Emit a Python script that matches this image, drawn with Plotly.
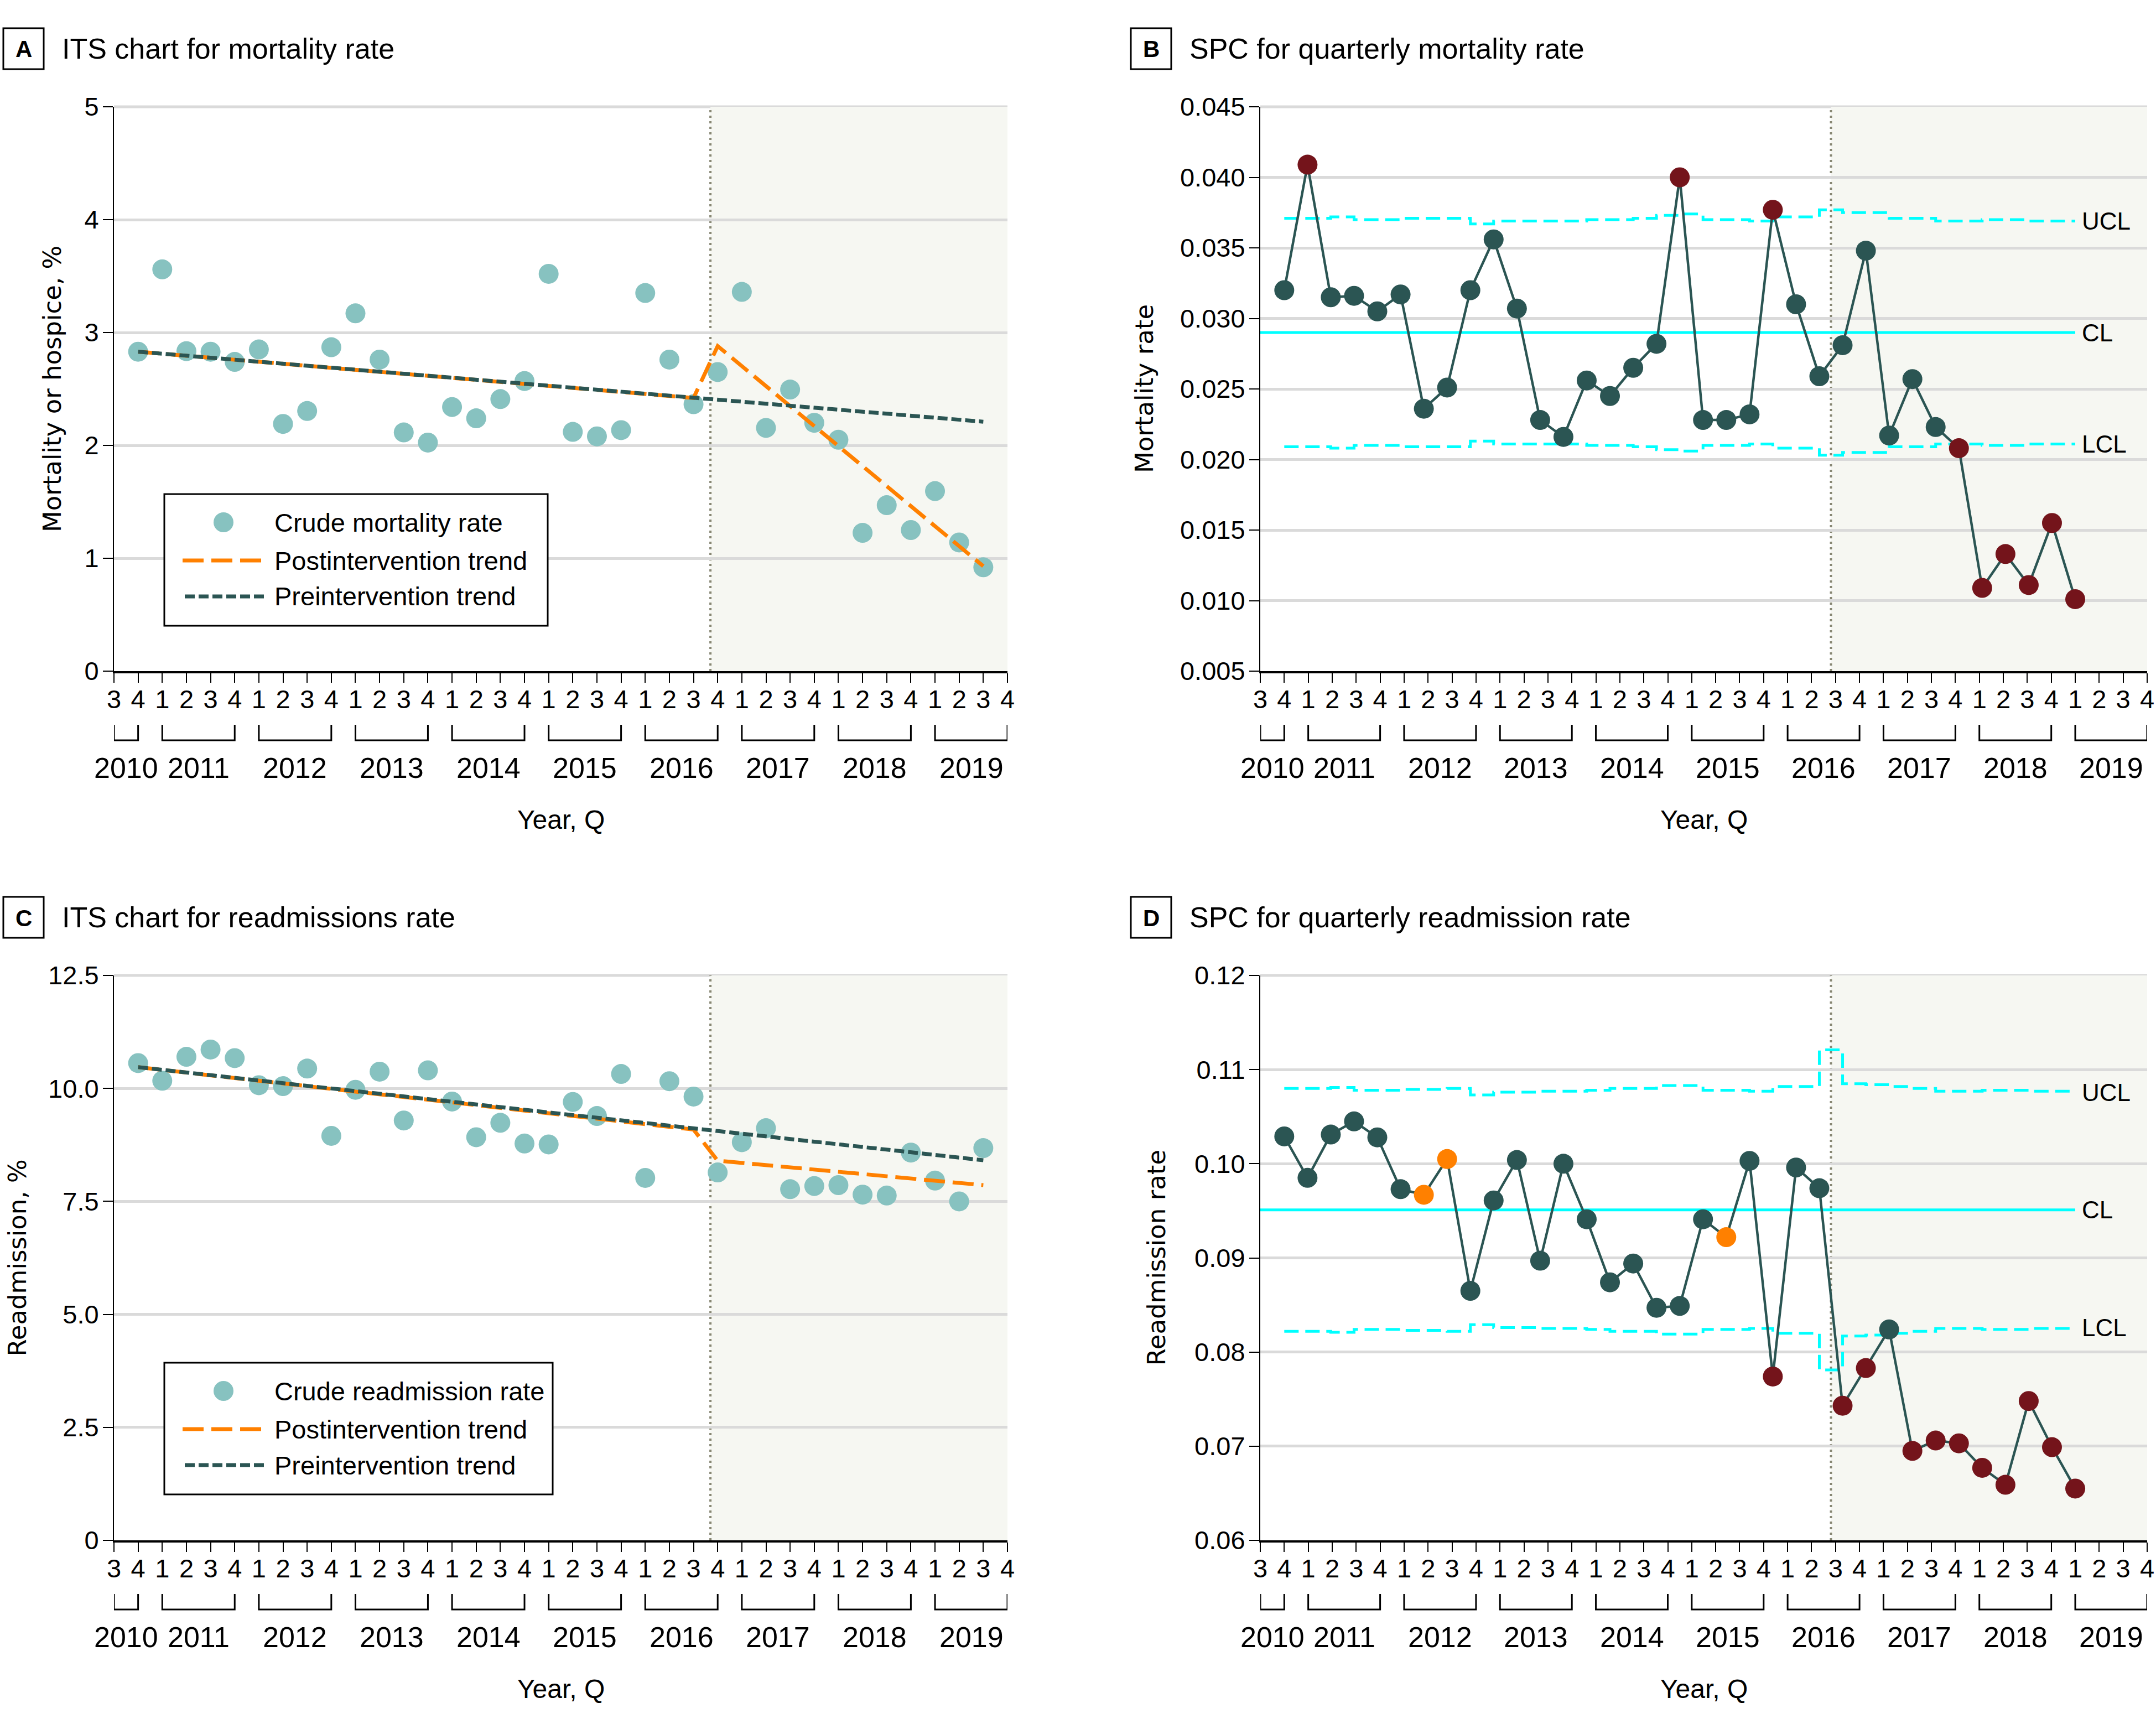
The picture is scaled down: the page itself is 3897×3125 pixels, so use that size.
import plotly.graph_objects as go

W, H = 3897, 3125
FONT = "Liberation Sans, Arial, Helvetica, sans-serif"
YTITLE_FONT = "DejaVu Sans, Verdana, sans-serif"

# ------------------------------------------------------------------ data
# x axis positions: 2010 Q3 ... 2019 Q4
axis_quarters = ["2010Q3", "2010Q4"] + [f"{y}Q{q}" for y in range(2011, 2020) for q in (1, 2, 3, 4)]
quarter_ticks = ["3", "4"] + ["1", "2", "3", "4"] * 9
year_labels = ["2010", "2011", "2012", "2013", "2014", "2015", "2016", "2017", "2018", "2019"]

# ITS panels (A, C): quarterly crude rates 2010 Q4 - 2019 Q3
its_quarters = axis_quarters[1:37]
mortality_crude = [2.83, 3.56, 2.835, 2.83, 2.74, 2.85, 2.19, 2.305, 2.87, 3.17, 2.76, 2.115,
                   2.025, 2.34, 2.24, 2.41, 2.57, 3.52, 2.12, 2.08, 2.135, 3.35, 2.76, 2.365,
                   2.65, 3.36, 2.155, 2.495, 2.20, 2.05, 1.225, 1.47, 1.25, 1.595, 1.14, 0.92]
readmission_crude = [10.56, 10.17, 10.70, 10.86, 10.67, 10.07, 10.05, 10.44, 8.95, 9.97, 10.37, 9.29,
                     10.40, 9.71, 8.92, 9.24, 8.78, 8.76, 9.70, 9.39, 10.32, 8.02, 10.16, 9.82,
                     8.14, 8.81, 9.12, 7.77, 7.84, 7.86, 7.65, 7.63, 8.58, 7.96, 7.50, 8.68]
pre_trend_quarters = ["2010Q4", "2019Q3"]
post_trend_quarters = ["2010Q4", "2016Q3", "2016Q4", "2019Q3"]
mortality_pre_trend = [2.83, 2.21]
mortality_post_trend = [2.83, 2.42, 2.88, 0.93]
readmission_pre_trend = [10.47, 8.41]
readmission_post_trend = [10.47, 9.09, 8.40, 7.86]
its_intervention = 24.7  # position on the quarter axis

# SPC panels (B, D): 35 periods
spc_period = list(range(1, 36))
spc_intervention = 24.5
mort_rate = [0.0320, 0.0409, 0.0315, 0.0316, 0.0305, 0.0317, 0.0236, 0.0251, 0.0320, 0.0356,
             0.0307, 0.0228, 0.0216, 0.0256, 0.0245, 0.0265, 0.0282, 0.0400, 0.0228, 0.0228,
             0.0232, 0.0377, 0.0310, 0.0259, 0.0281, 0.0348, 0.0217, 0.0257, 0.0223, 0.0208,
             0.0109, 0.0133, 0.0111, 0.0155, 0.0101]
mort_cl = 0.0290
mort_ucl = [0.0371, 0.0371, 0.0372, 0.0370, 0.0370, 0.0371, 0.0371, 0.0371, 0.0367, 0.0369,
            0.0369, 0.0369, 0.0369, 0.0370, 0.0370, 0.0371, 0.0373, 0.0374, 0.0370, 0.0370,
            0.0369, 0.0372, 0.0372, 0.0377, 0.0375, 0.0375, 0.0371, 0.0371, 0.0369, 0.0369,
            0.0370, 0.0370, 0.0369, 0.0369, 0.0369]
mort_lcl = [0.0209, 0.0209, 0.0208, 0.0210, 0.0210, 0.0209, 0.0209, 0.0209, 0.0213, 0.0211,
            0.0211, 0.0211, 0.0211, 0.0210, 0.0210, 0.0209, 0.0207, 0.0206, 0.0210, 0.0210,
            0.0211, 0.0208, 0.0208, 0.0203, 0.0205, 0.0205, 0.0209, 0.0209, 0.0211, 0.0211,
            0.0210, 0.0210, 0.0211, 0.0211, 0.0211]
mort_flag = ["n", "s", "n", "n", "n", "n", "n", "n", "n", "n", "n", "n", "n", "n", "n", "n", "n", "s",
             "n", "n", "n", "s", "n", "n", "n", "n", "n", "n", "n", "s", "s", "s", "s", "s", "s"]

readm_rate = [0.1029, 0.0985, 0.1031, 0.1045, 0.1028, 0.0973, 0.0967, 0.1005, 0.0865, 0.0961,
              0.1004, 0.0897, 0.1000, 0.0941, 0.0874, 0.0894, 0.0847, 0.0849, 0.0941, 0.0922,
              0.1003, 0.0774, 0.0996, 0.0974, 0.0743, 0.0783, 0.0824, 0.0695, 0.0706, 0.0703,
              0.0677, 0.0659, 0.0748, 0.0699, 0.0655]
readm_cl = 0.0951
readm_ucl = [0.1080, 0.1080, 0.1081, 0.1078, 0.1078, 0.1079, 0.1079, 0.1080, 0.1073, 0.1076,
             0.1076, 0.1077, 0.1077, 0.1078, 0.1080, 0.1080, 0.1083, 0.1083, 0.1078, 0.1078,
             0.1077, 0.1082, 0.1082, 0.1121, 0.1085, 0.1084, 0.1082, 0.1080, 0.1077, 0.1077,
             0.1078, 0.1078, 0.1077, 0.1077, 0.1076]
readm_lcl = [0.0822, 0.0822, 0.0821, 0.0824, 0.0824, 0.0823, 0.0823, 0.0822, 0.0829, 0.0826,
             0.0826, 0.0825, 0.0825, 0.0824, 0.0822, 0.0822, 0.0819, 0.0819, 0.0824, 0.0824,
             0.0825, 0.0820, 0.0820, 0.0781, 0.0817, 0.0818, 0.0820, 0.0822, 0.0825, 0.0825,
             0.0824, 0.0824, 0.0825, 0.0825, 0.0826]
readm_flag = ["n", "n", "n", "n", "n", "n", "w", "w", "n", "n", "n", "n", "n", "n", "n", "n", "n", "n",
              "n", "w", "n", "s", "n", "n", "s", "s", "n", "s", "s", "s", "s", "s", "s", "s", "s"]

# ------------------------------------------------------------------ style
C_LIGHT = "#87C2C0"
C_ORANGE = "#FF8000"
C_DARK = "#2B5553"
C_RED = "#74141B"
C_CYAN = "#00FFFF"
C_GRID = "#DADADA"
C_SHADE = "#F6F7F2"
C_VLINE = "#878773"
flag_color = {"n": C_DARK, "s": C_RED, "w": C_ORANGE}

panels = {
    "A": dict(l=206, r=1821, t=193, b=1213, x="x", y="y"),
    "B": dict(l=2278, r=3881, t=193, b=1213, x="x2", y="y2", dx="x5"),
    "C": dict(l=206, r=1821, t=1763, b=2784, x="x3", y="y3"),
    "D": dict(l=2278, r=3881, t=1763, b=2784, x="x4", y="y4", dx="x6"),
}


def px(v):
    return v / W


def py(v):
    return 1 - v / H


qpos = {q: i for i, q in enumerate(axis_quarters)}
n_ticks = len(axis_quarters) - 1  # 37

# SPC data axis: first period sits on 2010 Q4 tick, last on 2019 Q1 tick
first_tick, last_tick = qpos["2010Q4"], qpos["2019Q1"]
scale = (spc_period[-1] - spc_period[0]) / (last_tick - first_tick)
spc_range = [spc_period[0] - first_tick * scale, spc_period[0] + (n_ticks - first_tick) * scale]

fig = go.Figure()


def its_traces(xa, ya, crude, pre, post, name):
    fig.add_trace(go.Scatter(x=[qpos[q] for q in its_quarters], y=crude, mode="markers",
                             marker=dict(size=36, color=C_LIGHT), name=name,
                             xaxis=xa, yaxis=ya, showlegend=False))
    fig.add_trace(go.Scatter(x=[qpos[q] for q in post_trend_quarters], y=post, mode="lines",
                             line=dict(color=C_ORANGE, width=7, dash="38px,14px"),
                             name="Postintervention trend", xaxis=xa, yaxis=ya, showlegend=False))
    fig.add_trace(go.Scatter(x=[qpos[q] for q in pre_trend_quarters], y=pre, mode="lines",
                             line=dict(color=C_DARK, width=7, dash="18px,7px"),
                             name="Preintervention trend", xaxis=xa, yaxis=ya, showlegend=False))


def spc_traces(xa, ya, rate, cl, ucl, lcl, flags, name):
    fig.add_trace(go.Scatter(x=spc_period, y=ucl, mode="lines", line_shape="hv",
                             line=dict(color=C_CYAN, width=5, dash="26px,12px"),
                             name="UCL", xaxis=xa, yaxis=ya, showlegend=False))
    fig.add_trace(go.Scatter(x=spc_period, y=lcl, mode="lines", line_shape="hv",
                             line=dict(color=C_CYAN, width=5, dash="26px,12px"),
                             name="LCL", xaxis=xa, yaxis=ya, showlegend=False))
    fig.add_trace(go.Scatter(x=[spc_range[0], spc_period[-1]], y=[cl, cl], mode="lines",
                             line=dict(color=C_CYAN, width=5), name="CL",
                             xaxis=xa, yaxis=ya, showlegend=False))
    fig.add_trace(go.Scatter(x=spc_period, y=rate, mode="lines+markers",
                             line=dict(color=C_DARK, width=4.5),
                             marker=dict(size=36, color=[flag_color[f] for f in flags]),
                             name=name, xaxis=xa, yaxis=ya, showlegend=False))


its_traces("x", "y", mortality_crude, mortality_pre_trend, mortality_post_trend, "Crude mortality rate")
its_traces("x3", "y3", readmission_crude, readmission_pre_trend, readmission_post_trend,
           "Crude readmission rate")
spc_traces("x5", "y2", mort_rate, mort_cl, mort_ucl, mort_lcl, mort_flag, "Mortality rate")
spc_traces("x6", "y4", readm_rate, readm_cl, readm_ucl, readm_lcl, readm_flag, "Readmission rate")

# ------------------------------------------------------------------ axes
xtick = dict(range=[0, n_ticks], tickmode="array", tickvals=list(range(len(axis_quarters))),
             ticktext=quarter_ticks, ticks="outside", ticklen=17, tickwidth=2, tickcolor="black",
             showline=True, linecolor="black", linewidth=4, showgrid=False, zeroline=False,
             tickfont=dict(size=47, family=FONT, color="black"), ticklabelstandoff=-10,
             ticklabeloverflow="allow", automargin=False, fixedrange=True)
ycommon = dict(ticks="outside", ticklen=18, tickwidth=2, tickcolor="black", showline=True,
               linecolor="black", linewidth=2, showgrid=True, gridcolor=C_GRID, gridwidth=5,
               zeroline=False, tickfont=dict(size=47, family=FONT, color="black"),
               ticklabelstandoff=-2, automargin=False, fixedrange=True)


def xdom(p):
    return [px(panels[p]["l"]), px(panels[p]["r"])]


def ydom(p):
    return [py(panels[p]["b"]), py(panels[p]["t"])]


fig.update_layout(
    xaxis=dict(domain=xdom("A"), anchor="y", **xtick),
    yaxis=dict(domain=ydom("A"), anchor="x", range=[0, 5], tickvals=[0, 1, 2, 3, 4, 5], **ycommon),
    xaxis2=dict(domain=xdom("B"), anchor="y2", **xtick),
    yaxis2=dict(domain=ydom("B"), anchor="x2", range=[0.005, 0.045],
                tickvals=[0.005, 0.010, 0.015, 0.020, 0.025, 0.030, 0.035, 0.040, 0.045],
                tickformat=".3f", **ycommon),
    xaxis3=dict(domain=xdom("C"), anchor="y3", **xtick),
    yaxis3=dict(domain=ydom("C"), anchor="x3", range=[0, 12.5],
                tickvals=[0, 2.5, 5, 7.5, 10, 12.5],
                ticktext=["0", "2.5", "5.0", "7.5", "10.0", "12.5"], **ycommon),
    xaxis4=dict(domain=xdom("D"), anchor="y4", **xtick),
    yaxis4=dict(domain=ydom("D"), anchor="x4", range=[0.06, 0.12],
                tickvals=[0.06, 0.07, 0.08, 0.09, 0.10, 0.11, 0.12], tickformat=".2f", **ycommon),
    xaxis5=dict(overlaying="x2", anchor="y2", range=spc_range, visible=False, fixedrange=True),
    xaxis6=dict(overlaying="x4", anchor="y4", range=spc_range, visible=False, fixedrange=True),
)

# ------------------------------------------------------------------ decorations
shapes = []
annotations = []

panel_titles = {
    "A": ("A", "ITS chart for mortality rate", "Mortality or hospice, %", 94),
    "B": ("B", "SPC for quarterly mortality rate", "Mortality rate", 2068),
    "C": ("C", "ITS chart for readmissions rate", "Readmission, %", 31),
    "D": ("D", "SPC for quarterly readmission rate", "Readmission rate", 2090),
}

for key, p in panels.items():
    letter, title, ytitle, ytx = panel_titles[key]
    xa, ya = p["x"], p["y"]
    box_l = 6 if key in ("A", "C") else 2044
    box_t = p["t"] - 142
    # letter box
    shapes.append(dict(type="rect", xref="paper", yref="paper", x0=px(box_l), x1=px(box_l + 73),
                       y0=py(box_t + 74), y1=py(box_t), line=dict(color="black", width=3),
                       fillcolor="white", layer="above"))
    annotations.append(dict(xref="paper", yref="paper", x=px(box_l + 36.5), y=py(box_t + 38),
                            text=f"<b>{letter}</b>", showarrow=False, xanchor="center",
                            yanchor="middle", font=dict(size=42, family=FONT, color="black")))
    annotations.append(dict(xref="paper", yref="paper", x=px(box_l + 104), y=py(box_t + 37),
                            text=title, showarrow=False, xanchor="left", yanchor="middle",
                            font=dict(size=52, family=FONT, color="black")))
    # y title
    annotations.append(dict(xref="paper", yref="paper", x=px(ytx), y=py((p["t"] + p["b"]) / 2),
                            text=ytitle, textangle=-90, showarrow=False, xanchor="center",
                            yanchor="middle", font=dict(size=45, family=YTITLE_FONT, color="black")))
    # x title
    annotations.append(dict(xref="paper", yref="paper", x=px((p["l"] + p["r"]) / 2),
                            y=py(p["b"] + 268), text="Year, Q", showarrow=False,
                            xanchor="center", yanchor="middle",
                            font=dict(size=48, family=FONT, color="black")))
    # top gridline
    shapes.append(dict(type="line", xref=f"{xa} domain", yref=f"{ya} domain", x0=0, x1=1, y0=1, y1=1,
                       line=dict(color=C_GRID, width=5), layer="below"))
    # year brackets + labels
    for yr in year_labels:
        idx = [qpos[q] for q in axis_quarters if q.startswith(yr)]
        a, b = min(idx), max(idx)
        y0, y1 = py(p["b"] + 97), py(p["b"] + 125)
        shapes.append(dict(type="path", xref=xa, yref="paper",
                           path=f"M {a},{y0} L {a},{y1} L {b},{y1} L {b},{y0}",
                           line=dict(color="black", width=3), layer="above"))
        annotations.append(dict(xref=xa, yref="paper", x=(a + b) / 2, y=py(p["b"] + 175),
                                text=yr, showarrow=False, xanchor="center", yanchor="middle",
                                font=dict(size=52, family=FONT, color="black")))
    # intervention shading + dotted line
    if "dx" in p:
        vx, vref, vend = spc_intervention, p["dx"], spc_range[1]
    else:
        vx, vref, vend = its_intervention, xa, n_ticks
    shapes.append(dict(type="rect", xref=vref, yref=f"{ya} domain", x0=vx, x1=vend, y0=0, y1=1,
                       fillcolor=C_SHADE, line=dict(width=0), layer="below"))
    shapes.append(dict(type="line", xref=vref, yref=f"{ya} domain", x0=vx, x1=vx, y0=0, y1=1,
                       line=dict(color=C_VLINE, width=4, dash="4px,6px"), layer="below"))

# UCL / CL / LCL labels
for dx, ya, cl, ucl, lcl in (("x5", "y2", mort_cl, mort_ucl, mort_lcl),
                             ("x6", "y4", readm_cl, readm_ucl, readm_lcl)):
    for txt, val in (("UCL", ucl[-1]), ("CL", cl), ("LCL", lcl[-1])):
        annotations.append(dict(xref=dx, yref=ya, x=spc_period[-1], y=val, text=txt,
                                showarrow=False, xanchor="left", yanchor="middle", xshift=10,
                                font=dict(size=44, family=FONT, color="black")))


# manual legends for ITS panels
def add_legend(left, top, width, first_label):
    shapes.append(dict(type="rect", xref="paper", yref="paper", x0=px(left), x1=px(left + width),
                       y0=py(top + 238), y1=py(top), line=dict(color="black", width=3),
                       fillcolor="white", layer="above"))
    cx, cy = left + 107, top + 51
    shapes.append(dict(type="circle", xref="paper", yref="paper", x0=px(cx - 18), x1=px(cx + 18),
                       y0=py(cy + 18), y1=py(cy - 18), fillcolor=C_LIGHT, line=dict(width=0),
                       layer="above"))
    shapes.append(dict(type="line", xref="paper", yref="paper", x0=px(left + 33), x1=px(left + 181),
                       y0=py(top + 120), y1=py(top + 120),
                       line=dict(color=C_ORANGE, width=7, dash="38px,14px"), layer="above"))
    shapes.append(dict(type="line", xref="paper", yref="paper", x0=px(left + 37), x1=px(left + 181),
                       y0=py(top + 185), y1=py(top + 185),
                       line=dict(color=C_DARK, width=7, dash="18px,7px"), layer="above"))
    for txt, dy in ((first_label, 51), ("Postintervention trend", 120), ("Preintervention trend", 185)):
        annotations.append(dict(xref="paper", yref="paper", x=px(left + 197), y=py(top + dy),
                                text=txt, showarrow=False, xanchor="left", yanchor="middle",
                                font=dict(size=47, family=FONT, color="black")))


add_legend(297, 893, 693, "Crude mortality rate")
add_legend(297, 2463, 702, "Crude readmission rate")

fig.update_layout(
    width=W, height=H, margin=dict(l=0, r=0, t=0, b=0, autoexpand=False),
    paper_bgcolor="white", plot_bgcolor="white",
    font=dict(family=FONT, size=47, color="black"),
    showlegend=False, shapes=shapes, annotations=annotations, hovermode=False,
)

fig.write_html("out.html", config={"displayModeBar": False},
               post_script="document.body.style.margin='0';document.body.style.overflow='hidden';")
